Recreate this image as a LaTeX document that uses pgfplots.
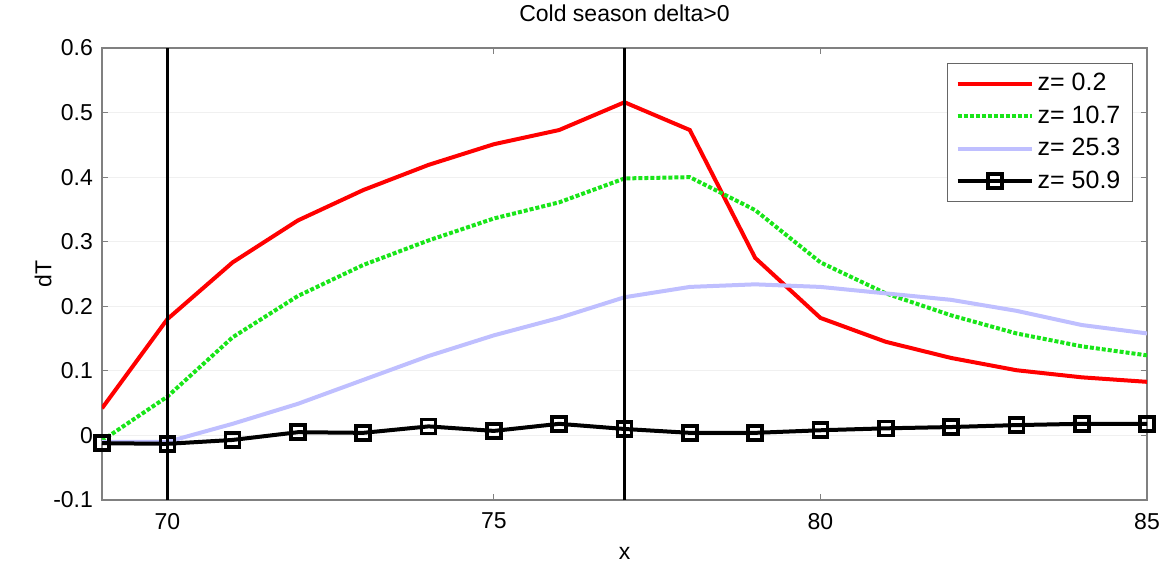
\documentclass[border=0pt]{standalone}
\usepackage{fontspec}
\setmainfont{Liberation Sans}
\usepackage{pgfplots}
\pgfplotsset{compat=1.18}
\definecolor{lblue}{rgb}{0.75,0.75,1}
\definecolor{mgreen}{rgb}{0.1,0.9,0.1}
\begin{document}
\begin{tikzpicture}
\useasboundingbox (-51pt,-34pt) rectangle (529.5pt,250pt);
\begin{axis}[
  at={(0,0)}, anchor=south west,
  scale only axis, width=522.5pt, height=226pt,
  xmin=69, xmax=85, ymin=-0.1, ymax=0.6,
  xtick={70,75,80,85},
  ytick={-0.1,0,0.1,0.2,0.3,0.4,0.5,0.6},
  yticklabels={-0.1,0,0.1,0.2,0.3,0.4,0.5,0.6},
  xticklabels={70,75,80,85},
  tick align=inside, major tick length=3pt,
  axis line style={black!50, line width=0.6pt},
  tick style={black!50, line width=0.6pt},
  ymajorgrids, grid style={black!6, line width=0.4pt},
  ticklabel style={font=\fontsize{11.5}{13}\selectfont},
  xticklabel style={yshift=-3pt},
  yticklabel style={xshift=-1pt},
  title={Cold season delta>0},
  title style={font=\fontsize{11.5}{13}\selectfont, yshift=3.5pt},
  xlabel={x}, ylabel={dT},
  label style={font=\fontsize{11.5}{13}\selectfont},
  xlabel style={yshift=-2pt},
  ylabel style={yshift=-6pt},
  legend style={at={(0.9866,0.967)}, anchor=north east, font=\fontsize{12.5}{14}\selectfont,
    draw=black!60, line width=0.6pt, row sep=2pt, inner xsep=4pt, inner ysep=3pt},
  legend cell align=left,
  legend image code/.code={\draw[mark repeat=2,mark phase=2] plot coordinates {(0cm,0cm) (0.65cm,0cm) (1.3cm,0cm)};},
]
\addplot[red, line width=2pt, no markers] coordinates {
(69,0.042) (70,0.18) (71,0.268) (72,0.333) (73,0.38) (74,0.419) (75,0.451) (76,0.473) (77,0.516) (78,0.473) (79,0.275) (80,0.182) (81,0.145) (82,0.12) (83,0.101) (84,0.09) (85,0.083)};
\addlegendentry{z= 0.2}
\addplot[mgreen, line width=2pt, densely dotted, no markers] coordinates {
(69,-0.008) (70,0.06) (71,0.152) (72,0.216) (73,0.264) (74,0.302) (75,0.336) (76,0.361) (77,0.398) (78,0.40) (79,0.349) (80,0.268) (81,0.22) (82,0.186) (83,0.158) (84,0.138) (85,0.124)};
\addlegendentry{z= 10.7}
\addplot[lblue, line width=2pt, no markers] coordinates {
(69,-0.01) (70,-0.01) (71,0.018) (72,0.049) (73,0.086) (74,0.123) (75,0.155) (76,0.182) (77,0.214) (78,0.23) (79,0.234) (80,0.23) (81,0.22) (82,0.21) (83,0.193) (84,0.171) (85,0.158)};
\addlegendentry{z= 25.3}
\addplot[black, line width=2pt, mark=square, mark size=3.5pt, mark options={line width=1.8pt}] coordinates {
(69,-0.012) (70,-0.013) (71,-0.007) (72,0.005) (73,0.004) (74,0.014) (75,0.007) (76,0.018) (77,0.01) (78,0.004) (79,0.004) (80,0.008) (81,0.011) (82,0.013) (83,0.016) (84,0.018) (85,0.018)};
\addlegendentry{z= 50.9}
\addplot[black, line width=1.8pt, no markers, forget plot] coordinates {(70,-0.1) (70,0.6)};
\addplot[black, line width=1.8pt, no markers, forget plot] coordinates {(77,-0.1) (77,0.6)};
\end{axis}
\end{tikzpicture}
\end{document}
